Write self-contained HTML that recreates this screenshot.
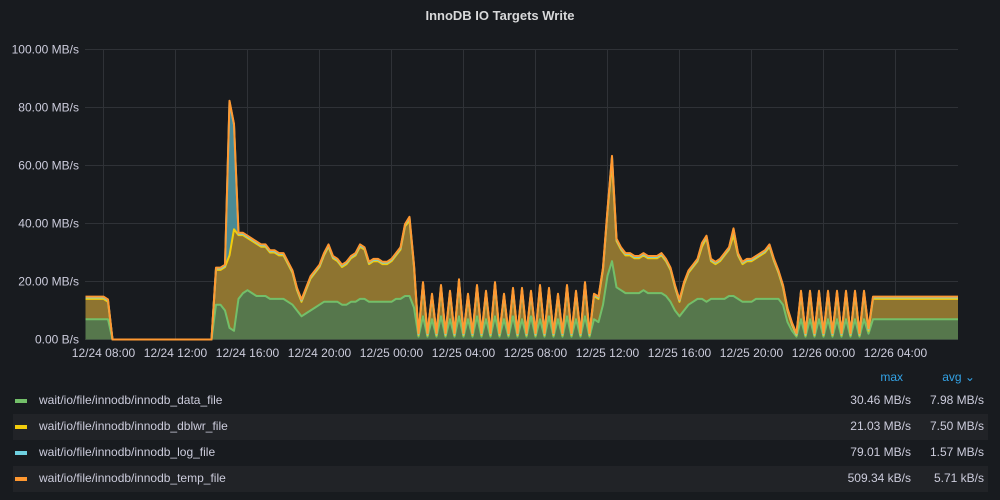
<!DOCTYPE html>
<html><head><meta charset="utf-8"><style>
body{margin:0;background:#181b1f;width:1000px;height:500px;overflow:hidden;font-family:"Liberation Sans",sans-serif;color:#ccccdc}
.t{position:absolute;font-size:12px}
</style></head><body>
<div class="t" style="left:0;width:1000px;top:8px;text-align:center;font-size:13px;font-weight:bold;color:#d8d9da">InnoDB IO Targets Write</div>
<svg id="c" width="1000" height="500" style="position:absolute;left:0;top:0"></svg>
<div>
<div class="t" style="left:870px;top:370px;color:#33a2e5;width:33px;text-align:right">max</div>
<div class="t" style="left:925px;top:370px;color:#33a2e5;width:50px;text-align:right">avg ⌄</div>
<div style="position:absolute;left:13px;top:414px;width:975px;height:26px;background:#212327"></div>
<div style="position:absolute;left:13px;top:466px;width:975px;height:26px;background:#212327"></div>
<div id="leg"></div>
</div>
<script>
const dataFile=[7,7,7,7,7,7,
0,0,0,0,0,0,0,0,0,0,0,0,0,0,0,0,0,0,0,0,0,0,0,
12,12,10,4,3,14,16,17,16,15,15,15,14,14,14,14,13,12,10,8,9,10,11,12,13,13,13,13,12,12,13,13,14,14,13,13,13,13,13,13,14,14,15,15,11,
1,8,1,7,1,8,1,7,1,8,1,7,1,8,1,7,1,8,1,7,1,8,1,7,1,8,1,7,1,8,1,7,1,8,1,7,1,8,1,7,
6,12,22,27,18,17,16,16,16,16,17,16,16,16,16,15,13,10,8,10,12,13,14,14,13,14,14,14,14,15,15,14,13,13,13,14,14,14,14,14,14,12,6,3,
1,7,1,7,1,7,1,7,1,7,1,7,1,7,1,7,
2,7,7,7,7,7,7,7,7,7,7,7,7,7,7,7,7,7,7,7,7];
const dblwrFile=[7,7,7,7,7,6,
0,0,0,0,0,0,0,0,0,0,0,0,0,0,0,0,0,0,0,0,0,0,0,
12,12,15,25,35,22,20,18,18,18,17,17,16,16,15,15,13,11,7,5,8,11,12,13,16,19,15,14,13,14,15,16,18,17,13,14,14,13,13,14,15,17,24,26,14,
0.5,11,0.5,8,0.5,10,0.5,9,0.5,12,0.5,8,0.5,10,0.5,9,0.5,11,0.5,8,0.5,9,0.5,10,0.5,8,0.5,11,0.5,9,0.5,8,0.5,10,0.5,9,0.5,11,0.5,8,
8,12,22,34,16,14,13,13,12,12,12,12,12,12,13,12,11,8,5,9,11,12,13,18,22,13,12,13,15,16,21,15,13,14,14,14,15,16,18,13,9,6,4,2,
0.5,9,0.5,9,0.5,9,0.5,9,0.5,9,0.5,9,0.5,9,0.5,9,
1,7,7,7,7,7,7,7,7,7,7,7,7,7,7,7,7,7,7,7,7];
const logFile=[0.5,0.5,0.5,0.5,0.5,0.5,
0,0,0,0,0,0,0,0,0,0,0,0,0,0,0,0,0,0,0,0,0,0,0,
0.5,0.5,0.5,53,36,0.5,0.5,0.5,0.5,0.5,0.5,0.5,0.5,0.5,0.5,0.5,0.5,0.5,0.5,0.5,0.5,0.5,0.5,0.5,0.5,0.5,0.5,0.5,0.5,0.5,0.5,0.5,0.5,0.5,0.5,0.5,0.5,0.5,0.5,0.5,0.5,0.5,0.5,1,0.5,
0.3,0.5,0.3,0.5,0.3,0.5,0.3,0.5,0.3,0.5,0.3,0.5,0.3,0.5,0.3,0.5,0.3,0.5,0.3,0.5,0.3,0.5,0.3,0.5,0.3,0.5,0.3,0.5,0.3,0.5,0.3,0.5,0.3,0.5,0.3,0.5,0.3,0.5,0.3,0.5,
0.5,0.5,0.5,2,0.5,0.5,0.5,0.5,0.5,0.5,0.5,0.5,0.5,0.5,0.5,0.5,0.5,0.5,0.5,0.5,0.5,0.5,0.5,1,0.5,0.5,0.5,0.5,0.5,0.5,2,0.5,0.5,0.5,0.5,0.5,0.5,0.5,0.5,0.5,0.5,0.5,0.5,0.5,
0.3,0.5,0.3,0.5,0.3,0.5,0.3,0.5,0.3,0.5,0.3,0.5,0.3,0.5,0.3,0.5,
0.5,0.5,0.5,0.5,0.5,0.5,0.5,0.5,0.5,0.5,0.5,0.5,0.5,0.5,0.5,0.5,0.5,0.5,0.5,0.5,0.5];
const tempFile=dataFile.map(v=>v>0?0.3:0);
const yTicks=[0,20,40,60,80,100];
const yTickLabels=["0.00 B/s","20.00 MB/s","40.00 MB/s","60.00 MB/s","80.00 MB/s","100.00 MB/s"];
const xTickHours=[1,5,9,13,17,21,25,29,33,37,41,45];
const xTickLabels=["12/24 08:00","12/24 12:00","12/24 16:00","12/24 20:00","12/25 00:00","12/25 04:00","12/25 08:00","12/25 12:00","12/25 16:00","12/25 20:00","12/26 00:00","12/26 04:00"];
const seriesNames=["wait/io/file/innodb/innodb_data_file","wait/io/file/innodb/innodb_dblwr_file","wait/io/file/innodb/innodb_log_file","wait/io/file/innodb/innodb_temp_file"];
const seriesMax=["30.46 MB/s","21.03 MB/s","79.01 MB/s","509.34 kB/s"];
const seriesAvg=["7.98 MB/s","7.50 MB/s","1.57 MB/s","5.71 kB/s"];
const colors=["#73bf69","#f2cc0c","#6ed0e0","#ff9830"];
const fills=["#56774c","#8e7430","#4a8a94","#a06a30"];
const STEP=0.25;

const L=85,R=958,T=49.5,B=339.5;
const X=h=>Math.min(R,85.5+h*18);
const Y=v=>B-(v/100)*(B-T);
const NS="http://www.w3.org/2000/svg";
const svg=document.getElementById('c');
function mk(tag,a){const e=document.createElementNS(NS,tag);for(const k in a)e.setAttribute(k,a[k]);svg.appendChild(e);return e;}
yTicks.forEach((v,i)=>{
  const g=mk('line',{x1:L,x2:R,y1:Y(v),y2:Y(v),stroke:'#2f3237','stroke-width':1});
  
  
  const t=mk('text',{x:79,y:Y(v)+4,'text-anchor':'end','font-size':12,fill:'#ccccdc','font-family':'Liberation Sans, sans-serif'});
  t.textContent=yTickLabels[i];
  
  
});
xTickHours.forEach((h,i)=>{
  const g=mk('line',{x1:X(h),x2:X(h),y1:T,y2:B,stroke:'#2f3237','stroke-width':1});
  
  
  const t=mk('text',{x:X(h),y:357,'text-anchor':'middle','font-size':12,fill:'#ccccdc','font-family':'Liberation Sans, sans-serif'});
  t.textContent=xTickLabels[i];
  
  
});
const series=[dataFile,dblwrFile,logFile,tempFile];
let base=dataFile.map(()=>0);
const tops=[];
series.forEach((s,si)=>{
  const top=s.map((v,i)=>base[i]+v);
  let d='M'+top.map((v,i)=>X(i*STEP).toFixed(1)+','+Y(v).toFixed(1)).join('L');
  let area=d;
  for(let i=base.length-1;i>=0;i--)area+='L'+X(i*STEP).toFixed(1)+','+Y(base[i]).toFixed(1);
  area+='Z';
  const a=mk('path',{d:area,fill:fills[si],stroke:'none'});
  
  
  tops.push(d);
  base=top;
});
tops.forEach((d,si)=>{
  const l=mk('path',{d:d,fill:'none',stroke:colors[si],'stroke-width':2,'stroke-linejoin':'round'});
  
  
});
const leg=document.getElementById('leg');
seriesNames.forEach((n,i)=>{
  const y=401+i*26;
  const row=document.createElement('div');
  
  
  row.innerHTML=`<div style="position:absolute;left:15px;top:${y-2}px;width:12px;height:4px;background:${colors[i]}"></div>
  <div class="t" style="left:39px;top:${y-8}px">${n}</div>
  <div class="t" style="left:800px;width:111px;text-align:right;top:${y-8}px">${seriesMax[i]}</div>
  <div class="t" style="left:900px;width:84px;text-align:right;top:${y-8}px">${seriesAvg[i]}</div>`;
  leg.appendChild(row);
});
</script>
</body></html>
